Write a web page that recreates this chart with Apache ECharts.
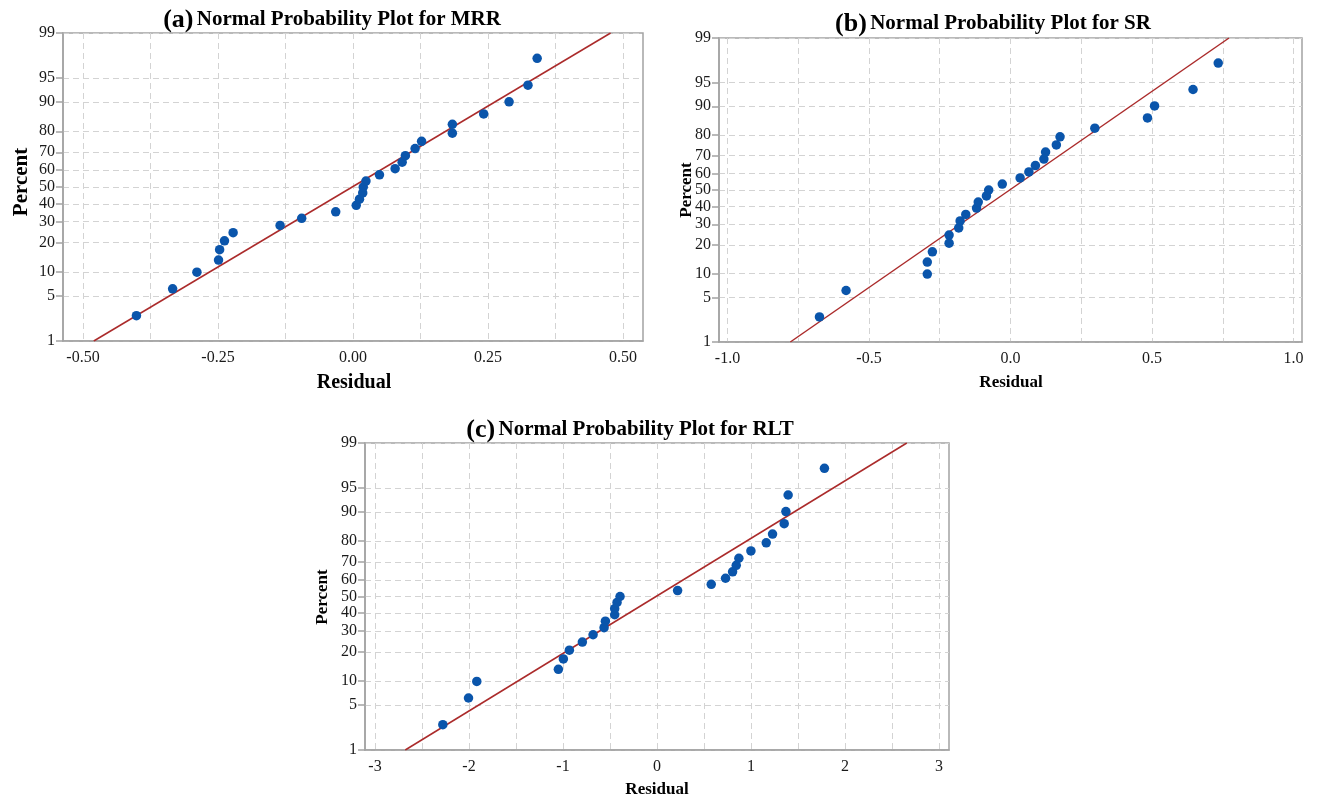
<!DOCTYPE html>
<html>
<head>
<meta charset="utf-8">
<script src="https://cdn.jsdelivr.net/npm/echarts@6/dist/echarts.min.js"></script>
<style>html,body{margin:0;padding:0;background:#fff}#c{width:1317px;height:805px}</style>
</head>
<body>
<div id="c"></div>
<script>
// ---- Data ----
const percentTicks = [1, 5, 10, 20, 30, 40, 50, 60, 70, 80, 90, 95, 99];
const percentRank = [2.6, 6.2, 9.9, 13.5, 17.2, 20.8, 24.5, 28.1, 31.8, 35.4, 39.1, 42.7, 46.4, 50.0, 53.6, 57.3, 60.9, 64.6, 68.2, 71.9, 75.5, 79.2, 82.8, 86.5, 90.1, 93.8, 97.4];

const residualMRR = [-0.401, -0.334, -0.289, -0.249, -0.247, -0.238, -0.222, -0.135, -0.095, -0.032, 0.006, 0.012, 0.018, 0.019, 0.024, 0.049, 0.078, 0.091, 0.097, 0.115, 0.127, 0.184, 0.184, 0.242, 0.289, 0.324, 0.341];
const residualSR = [-0.675, -0.581, -0.294, -0.294, -0.276, -0.217, -0.217, -0.183, -0.178, -0.158, -0.120, -0.114, -0.085, -0.077, -0.029, 0.034, 0.065, 0.088, 0.118, 0.124, 0.162, 0.175, 0.298, 0.484, 0.509, 0.645, 0.734];
const residualRLT = [-2.278, -2.005, -1.917, -1.049, -0.996, -0.932, -0.794, -0.680, -0.563, -0.549, -0.450, -0.450, -0.425, -0.393, 0.219, 0.577, 0.729, 0.804, 0.843, 0.871, 0.999, 1.162, 1.229, 1.353, 1.371, 1.395, 1.781];

// fitted reference lines: [residual, percent] at both ends
const fitMRR = [[-0.480, 1], [0.477, 99]];
const fitSR = [[-0.778, 1], [0.772, 99]];
const fitRLT = [[-2.678, 1], [2.657, 99]];

// x axis tick labels and grid positions
const xLabelsMRR = [-0.5, -0.25, 0, 0.25, 0.5];
const xGridMRR = [-0.5, -0.375, -0.25, -0.125, 0, 0.125, 0.25, 0.375, 0.5];
const xLabelsSR = [-1, -0.5, 0, 0.5, 1];
const xGridSR = [-1, -0.75, -0.5, -0.25, 0, 0.25, 0.5, 0.75, 1];
const xLabelsRLT = [-3, -2, -1, 0, 1, 2, 3];
const xGridRLT = [-3, -2.5, -2, -1.5, -1, -0.5, 0, 0.5, 1, 1.5, 2, 2.5, 3];

// ---- normal probability scale ----
function normInv(p) {
  const a = [-3.969683028665376e+01, 2.209460984245205e+02, -2.759285104469687e+02, 1.383577518672690e+02, -3.066479806614716e+01, 2.506628277459239e+00];
  const b = [-5.447609879822406e+01, 1.615858368580409e+02, -1.556989798598866e+02, 6.680131188771972e+01, -1.328068155288572e+01];
  const c = [-7.784894002430293e-03, -3.223964580411365e-01, -2.400758277161838e+00, -2.549671010229583e+00, 4.374664141464968e+00, 2.938163982698783e+00];
  const d = [7.784695709041462e-03, 3.224671290700398e-01, 2.445134137142996e+00, 3.754408661907416e+00];
  const pl = 0.02425, ph = 1 - pl;
  let q, r;
  if (p < pl) {
    q = Math.sqrt(-2 * Math.log(p));
    return (((((c[0]*q+c[1])*q+c[2])*q+c[3])*q+c[4])*q+c[5]) / ((((d[0]*q+d[1])*q+d[2])*q+d[3])*q+1);
  }
  if (p > ph) {
    q = Math.sqrt(-2 * Math.log(1 - p));
    return -(((((c[0]*q+c[1])*q+c[2])*q+c[3])*q+c[4])*q+c[5]) / ((((d[0]*q+d[1])*q+d[2])*q+d[3])*q+1);
  }
  q = p - 0.5; r = q * q;
  return (((((a[0]*r+a[1])*r+a[2])*r+a[3])*r+a[4])*r+a[5])*q / (((((b[0]*r+b[1])*r+b[2])*r+b[3])*r+b[4])*r+1);
}
const z = (pct) => normInv(pct / 100);
const zTicks = percentTicks.map(z);
const zMin = z(1), zMax = z(99);
function pctLabel(v) {
  let best = 0, bd = Infinity;
  zTicks.forEach((t, i) => { const dd = Math.abs(t - v); if (dd < bd) { bd = dd; best = i; } });
  return String(percentTicks[best]);
}

const FONT = '"Liberation Serif", "Times New Roman", serif';
const TXT = '#1a1a1a';
const FRAME = '#a3a3a3';
const GRIDC = '#d3d3d3';

const grids = [
  { left: 63, top: 33, width: 580, height: 308, show: true, borderColor: FRAME, borderWidth: 1.5, backgroundColor: '#fff' },
  { left: 719, top: 38, width: 583, height: 304, show: true, borderColor: FRAME, borderWidth: 1.5, backgroundColor: '#fff' },
  { left: 365, top: 443, width: 584, height: 307, show: true, borderColor: FRAME, borderWidth: 1.5, backgroundColor: '#fff' }
];

function xAxisFor(i, min, max, labels, gridVals, digits) {
  return {
    gridIndex: i, type: 'value', min: min, max: max,
    axisLine: { show: true, onZero: false, lineStyle: { color: FRAME, width: 1.5 } },
    axisTick: { show: false, customValues: gridVals },
    axisLabel: {
      customValues: labels, margin: 9, color: TXT, fontFamily: FONT, fontSize: 16,
      formatter: (v) => digits > 0 ? Number(v).toFixed(digits) : String(Math.round(v))
    },
    splitLine: { show: true, lineStyle: { color: GRIDC, width: 1, type: [6, 4] } }
  };
}
function yAxisFor(i) {
  return {
    gridIndex: i, type: 'value', min: zMin, max: zMax,
    axisLine: { show: true, onZero: false, lineStyle: { color: FRAME, width: 1.5 } },
    axisTick: { show: true, length: 7, customValues: zTicks, lineStyle: { color: FRAME, width: 1.5 } },
    axisLabel: { customValues: zTicks, margin: 8, color: TXT, fontFamily: FONT, fontSize: 16, formatter: pctLabel },
    splitLine: { show: true, lineStyle: { color: GRIDC, width: 1, type: [6, 4] } }
  };
}

function points(res) { return res.map((r, k) => [r, z(percentRank[k])]); }
function fit(f) { return f.map(p => [p[0], z(p[1])]); }

const PT = '#0a55ab';
const LN = '#ab2b2b';
function scatter(i, res) {
  return { type: 'scatter', xAxisIndex: i, yAxisIndex: i, data: points(res), symbolSize: 9.5, itemStyle: { color: PT, opacity: 1 }, z: 5, silent: true };
}
function line(i, f) {
  return { type: 'line', xAxisIndex: i, yAxisIndex: i, data: fit(f), symbol: 'none', lineStyle: { color: LN, width: 1.5 }, z: 4, silent: true };
}

function titleText(x, y, letter, label, big, small) {
  return {
    type: 'text', x: x, y: y,
    style: {
      text: '{a|' + letter + '} {t|' + label + '}',
      align: 'center', verticalAlign: 'middle',
      rich: {
        a: { fontFamily: FONT, fontWeight: 'bold', fontSize: big, fill: '#000', lineHeight: 28 },
        t: { fontFamily: FONT, fontWeight: 'bold', fontSize: small, fill: '#000', lineHeight: 28 }
      }
    }
  };
}
function nameText(x, y, txt, size, rot) {
  return {
    type: 'text', x: x, y: y, rotation: rot ? Math.PI / 2 : 0,
    style: { text: txt, fontFamily: FONT, fontWeight: 'bold', fontSize: size, fill: '#000', align: 'center', verticalAlign: 'middle' }
  };
}

const chart = echarts.init(document.getElementById('c'), null, { renderer: 'canvas' });
chart.setOption({
  backgroundColor: '#fff',
  animation: false,
  grid: grids,
  xAxis: [
    xAxisFor(0, -0.537, 0.537, xLabelsMRR, xGridMRR, 2),
    xAxisFor(1, -1.03, 1.03, xLabelsSR, xGridSR, 1),
    xAxisFor(2, -3.106, 3.106, xLabelsRLT, xGridRLT, 0)
  ],
  yAxis: [yAxisFor(0), yAxisFor(1), yAxisFor(2)],
  series: [
    line(0, fitMRR), scatter(0, residualMRR),
    line(1, fitSR), scatter(1, residualSR),
    line(2, fitRLT), scatter(2, residualRLT)
  ],
  graphic: [
    titleText(332, 20, '(a)', 'Normal Probability Plot for MRR', 26, 21),
    titleText(993, 24, '(b)', 'Normal Probability Plot for SR', 26, 21),
    titleText(630, 430, '(c)', 'Normal Probability Plot for RLT', 26, 21),
    nameText(22, 182, 'Percent', 21, true),
    nameText(354, 383, 'Residual', 20, false),
    nameText(687, 190, 'Percent', 17, true),
    nameText(1011, 383, 'Residual', 17, false),
    nameText(323, 597, 'Percent', 17, true),
    nameText(657, 790, 'Residual', 17, false)
  ]
});
</script>
</body>
</html>
